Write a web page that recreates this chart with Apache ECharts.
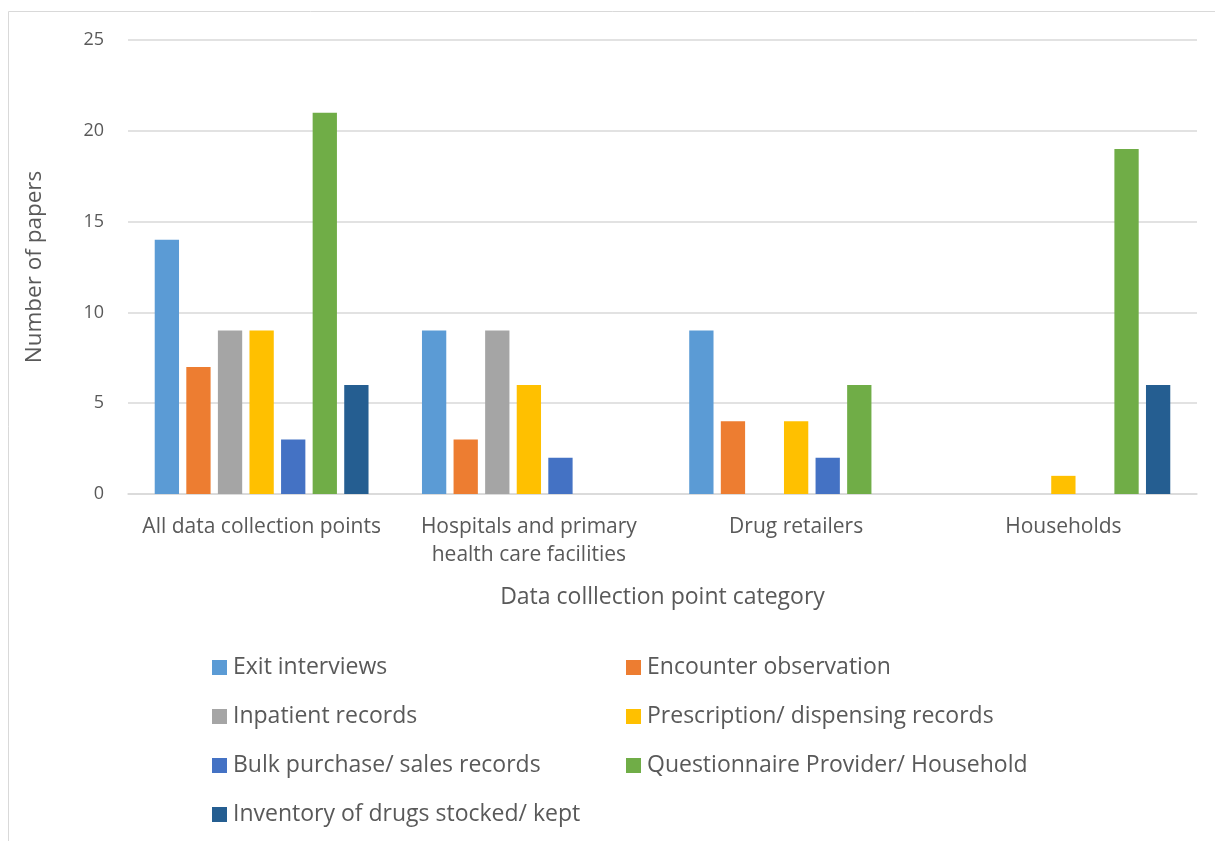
<!DOCTYPE html>
<html>
<head>
<meta charset="utf-8">
<script src="https://cdn.jsdelivr.net/npm/echarts@6/dist/echarts.min.js"></script>
<style>html,body{margin:0;padding:0;background:#fff}#c{width:1215px;height:841px}</style>
</head>
<body>
<div id="c"></div>
<script>
const categories = ['All data collection points', 'Hospitals and primary\nhealth care facilities', 'Drug retailers', 'Households'];
const seriesNames = ['Exit interviews', 'Encounter observation', 'Inpatient records', 'Prescription/ dispensing records', 'Bulk purchase/ sales records', 'Questionnaire Provider/ Household', 'Inventory of drugs stocked/ kept'];
const exitInterviews = [14, 9, 9, 0];
const encounterObservation = [7, 3, 4, 0];
const inpatientRecords = [9, 9, 0, 0];
const prescriptionRecords = [9, 6, 4, 1];
const bulkPurchase = [3, 2, 2, 0];
const questionnaire = [21, 0, 6, 19];
const inventory = [6, 0, 0, 6];
const colors = ['#5b9bd5', '#ed7d31', '#a5a5a5', '#ffc000', '#4472c4', '#70ad47', '#255e91'];
const allValues = [exitInterviews, encounterObservation, inpatientRecords, prescriptionRecords, bulkPurchase, questionnaire, inventory];

const font = '"Open Sans", Arial, sans-serif';
const chart = echarts.init(document.getElementById('c'), null, {renderer: 'canvas'});
const series = seriesNames.map((n, i) => ({
  name: n,
  type: 'bar',
  data: allValues[i],
  barGap: '30%',
  barCategoryGap: '20%',
  itemStyle: {color: colors[i]},
  emphasis: {disabled: true}
}));
const legendText = {fontSize: 23, color: '#595959', fontFamily: font, lineHeight: 22, padding: [0, 0, 0, 1]};
chart.setOption({
  animation: false,
  color: colors,
  graphic: [{type: 'rect', shape: {x: 8.5, y: 11.5, width: 1220, height: 840}, style: {fill: 'none', stroke: '#d9d9d9', lineWidth: 1}}],
  grid: {left: 128, right: 18, top: 40, bottom: 347, containLabel: false},
  legend: [
    {data: [seriesNames[0], seriesNames[2], seriesNames[4], seriesNames[6]], orient: 'vertical', left: 207, top: 651, itemWidth: 15, itemHeight: 15, itemGap: 26, icon: 'rect', textStyle: legendText, selectedMode: false},
    {data: [seriesNames[1], seriesNames[3], seriesNames[5]], orient: 'vertical', left: 621, top: 651, itemWidth: 15, itemHeight: 15, itemGap: 26, icon: 'rect', textStyle: legendText, selectedMode: false}
  ],
  xAxis: {
    type: 'category',
    data: categories,
    name: 'Data colllection point category',
    nameLocation: 'middle',
    nameGap: 92,
    nameTextStyle: {fontSize: 23, color: '#595959', fontFamily: font},
    axisLine: {lineStyle: {color: '#d9d9d9', width: 1.5}},
    axisTick: {show: false},
    axisLabel: {fontSize: 21, color: '#595959', fontFamily: font, margin: 19, lineHeight: 28, interval: 0}
  },
  yAxis: {
    type: 'value',
    min: 0, max: 25, interval: 5,
    name: 'Number of papers',
    nameLocation: 'middle',
    nameGap: 82,
    nameTextStyle: {fontSize: 22.5, color: '#595959', fontFamily: font},
    axisLine: {show: false},
    axisTick: {show: false},
    splitLine: {lineStyle: {color: '#d9d9d9', width: 1.5}},
    axisLabel: {fontSize: 18, color: '#595959', fontFamily: font, margin: 24}
  },
  series: series
});
</script>
</body>
</html>
